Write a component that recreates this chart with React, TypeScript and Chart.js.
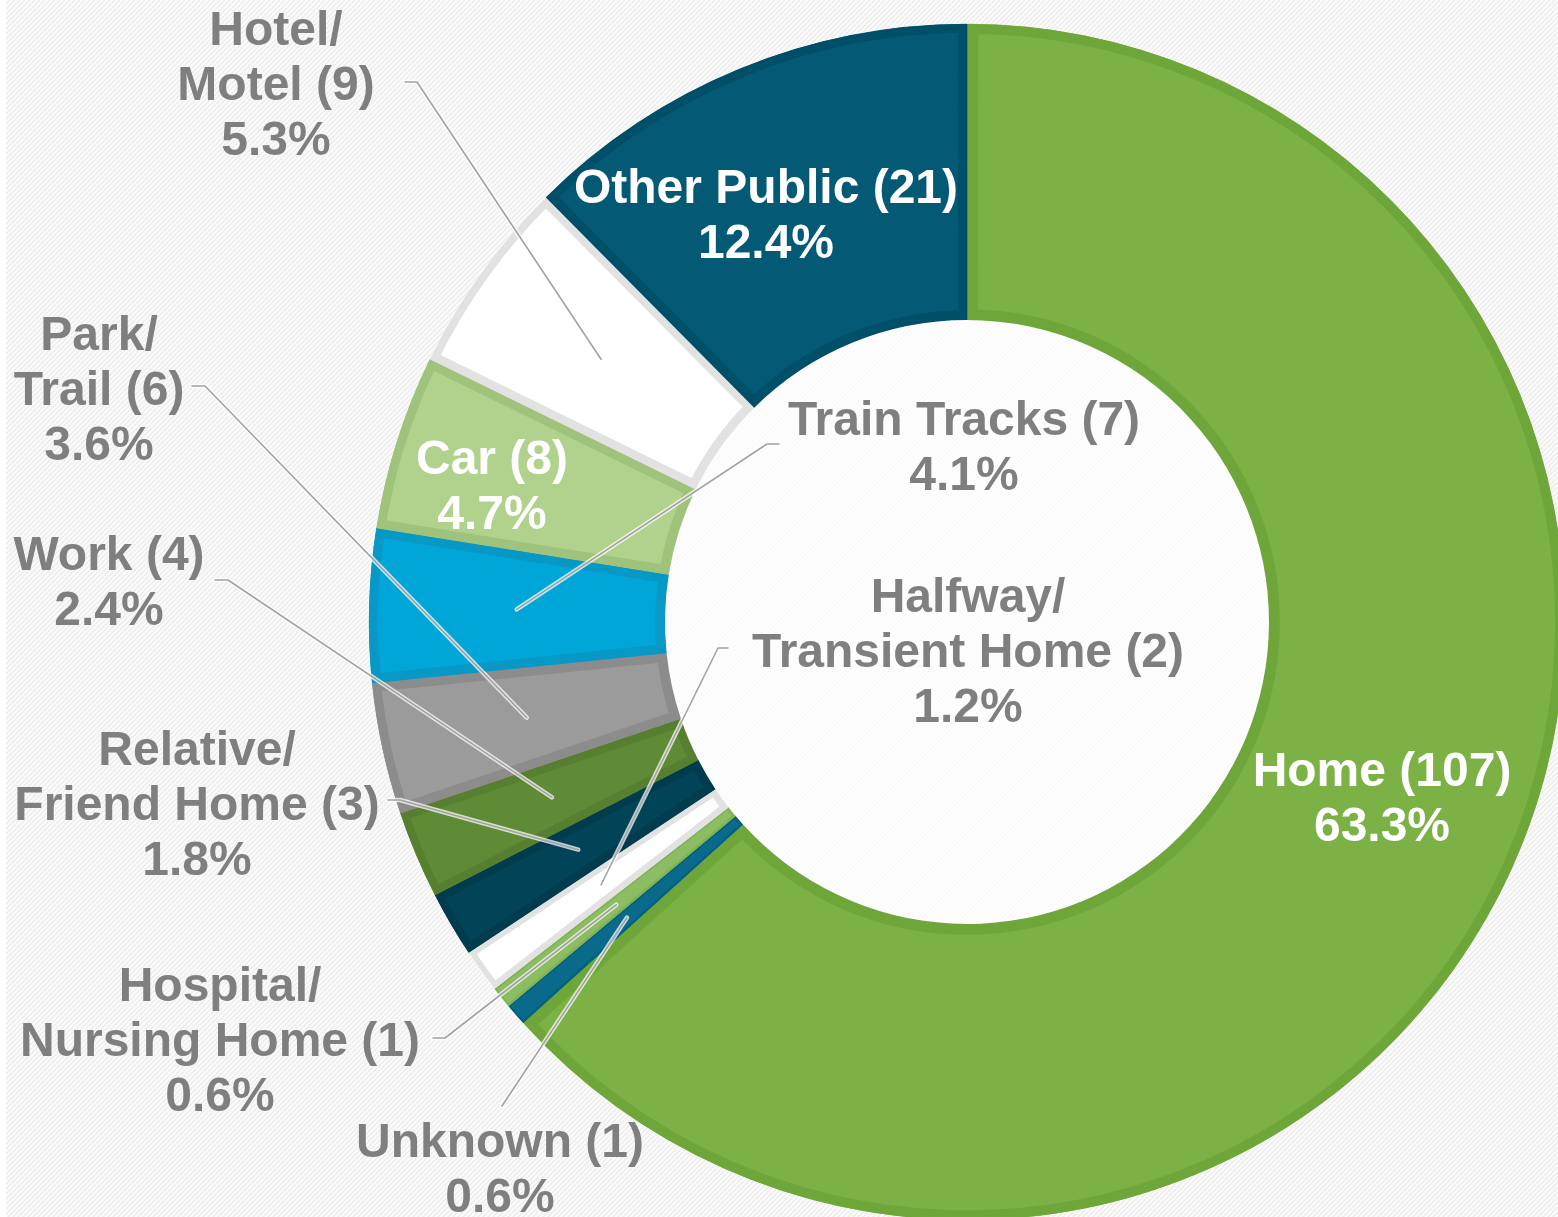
import React, { useEffect, useRef } from 'react';
import { Chart, registerables } from 'chart.js';

Chart.register(...registerables);

// ---- data ----
const categories = [
  'Home',
  'Unknown',
  'Hospital/Nursing Home',
  'Halfway/Transient Home',
  'Relative/Friend Home',
  'Work',
  'Park/Trail',
  'Train Tracks',
  'Car',
  'Hotel/Motel',
  'Other Public',
];
const counts = [107, 1, 1, 2, 3, 4, 6, 7, 8, 9, 21];

// ---- styles ----
const fillColors = ['#7cb145', '#0a6a8c', '#8dbd62', '#ffffff', '#014458', '#5f8a36', '#9b9b9b', '#00a6d8', '#b1d28d', '#ffffff', '#045a75'];
const borderColors = ['#6ea63a', '#055f80', '#80b356', '#e2e2e2', '#003b4e', '#567f30', '#8c8c8c', '#0898c5', '#a0c37c', '#e2e2e2', '#004f68'];
const borderWidths = [10, 2, 2, 6, 8, 8, 9, 9, 9, 8, 9];
const labelColors = ['#ffffff', '#7f7f7f', '#7f7f7f', '#7f7f7f', '#7f7f7f', '#7f7f7f', '#7f7f7f', '#7f7f7f', '#ffffff', '#7f7f7f', '#ffffff'];

// ---- label layout (center x, first baseline y) ----
const labelAnchors: number[][] = [
  [1382, 786], [500, 1157], [220, 1001], [968, 612], [197, 765], [109, 570],
  [99, 350], [964, 435], [492, 474], [276, 45], [766, 203],
];
const leaderStarts: (number[] | null)[] = [
  null, [502, 1106], [433, 1038], [728, 648], [388, 800], [215, 580],
  [192, 386], [779, 444], null, [405, 82], null,
];
const leaderBends: (number[] | null)[] = [
  null, null, [445, 1038], [718, 648], [400, 800], [228, 580],
  [205, 386], [767, 444], null, [417, 82], null,
];

const FONT = 'bold 48px "Liberation Sans", Arial, Helvetica, sans-serif';
const LINE_H = 55;

const total = counts.reduce((a, b) => a + b, 0);

function labelLines(i: number): string[] {
  const parts = categories[i].split('/');
  const lines = parts.map((p, k) => (k < parts.length - 1 ? p + '/' : p + ' (' + counts[i] + ')'));
  lines.push(((counts[i] / total) * 100).toFixed(1) + '%');
  return lines;
}

const backgroundPlugin = {
  id: 'stripedBg',
  beforeDraw(chart: any) {
    const ctx = chart.ctx as CanvasRenderingContext2D;
    const w = chart.width;
    const h = chart.height;
    ctx.save();
    ctx.fillStyle = '#fbfbfb';
    ctx.fillRect(0, 0, w, h);
    ctx.strokeStyle = '#ececec';
    ctx.lineWidth = 1.4;
    ctx.beginPath();
    for (let k = -h; k < w; k += 5) {
      ctx.moveTo(k, h);
      ctx.lineTo(k + h, 0);
    }
    ctx.stroke();
    ctx.fillStyle = '#ffffff';
    ctx.fillRect(0, 0, 6, h);
    const arc = chart.getDatasetMeta(0).data[0];
    if (arc) {
      ctx.beginPath();
      ctx.arc(arc.x, arc.y, arc.innerRadius, 0, Math.PI * 2);
      ctx.fillStyle = 'rgba(255,255,255,0.75)';
      ctx.fill();
    }
    ctx.restore();
  },
};

const labelPlugin = {
  id: 'sliceLabels',
  afterDatasetsDraw(chart: any) {
    const ctx = chart.ctx as CanvasRenderingContext2D;
    const arcs = chart.getDatasetMeta(0).data;
    ctx.save();
    // leader lines
    for (let i = 0; i < arcs.length; i++) {
      const start = leaderStarts[i];
      if (!start) continue;
      const end = arcs[i].getCenterPoint();
      const pts: number[][] = [start];
      const bend = leaderBends[i];
      if (bend) pts.push(bend);
      pts.push([end.x, end.y]);
      const path = () => {
        ctx.beginPath();
        ctx.moveTo(pts[0][0], pts[0][1]);
        for (let k = 1; k < pts.length; k++) ctx.lineTo(pts[k][0], pts[k][1]);
      };
      ctx.lineCap = 'round';
      ctx.lineJoin = 'round';
      path();
      ctx.strokeStyle = 'rgba(255,255,255,0.75)';
      ctx.lineWidth = 4.5;
      ctx.stroke();
      path();
      ctx.strokeStyle = '#a3a3a3';
      ctx.lineWidth = 1.6;
      ctx.stroke();
    }
    // text
    ctx.font = FONT;
    ctx.textAlign = 'center';
    ctx.textBaseline = 'alphabetic';
    for (let i = 0; i < arcs.length; i++) {
      const [cx, by] = labelAnchors[i];
      ctx.fillStyle = labelColors[i];
      labelLines(i).forEach((ln, j) => ctx.fillText(ln, cx, by + j * LINE_H));
    }
    ctx.restore();
  },
};

export default function App() {
  const ref = useRef<HTMLCanvasElement>(null);
  useEffect(() => {
    if (!ref.current) return;
    const chart = new Chart(ref.current, {
      type: 'doughnut',
      data: {
        labels: categories,
        datasets: [
          {
            data: counts,
            backgroundColor: fillColors,
            borderColor: borderColors,
            borderWidth: borderWidths,
            borderAlign: 'inner',
            offset: 0,
            hoverOffset: 0,
            spacing: 1,
          } as any,
        ],
      },
      options: {
        responsive: false,
        animation: false,
        devicePixelRatio: 1,
        radius: 598,
        cutout: '50.5%',
        rotation: 0,
        circumference: 360,
        layout: { padding: 0 },
        events: [],
        plugins: {
          legend: { display: false },
          tooltip: { enabled: false },
        },
      } as any,
      plugins: [backgroundPlugin, labelPlugin],
    });
    return () => chart.destroy();
  }, []);
  return (
    <div
      style={{
        position: 'fixed',
        left: 0,
        top: 0,
        width: '100vw',
        height: '100vh',
        overflow: 'hidden',
        background: '#ffffff',
      }}
    >
      <canvas ref={ref} width={1934} height={1244} style={{ display: 'block', width: 1934, height: 1244 }} />
    </div>
  );
}
